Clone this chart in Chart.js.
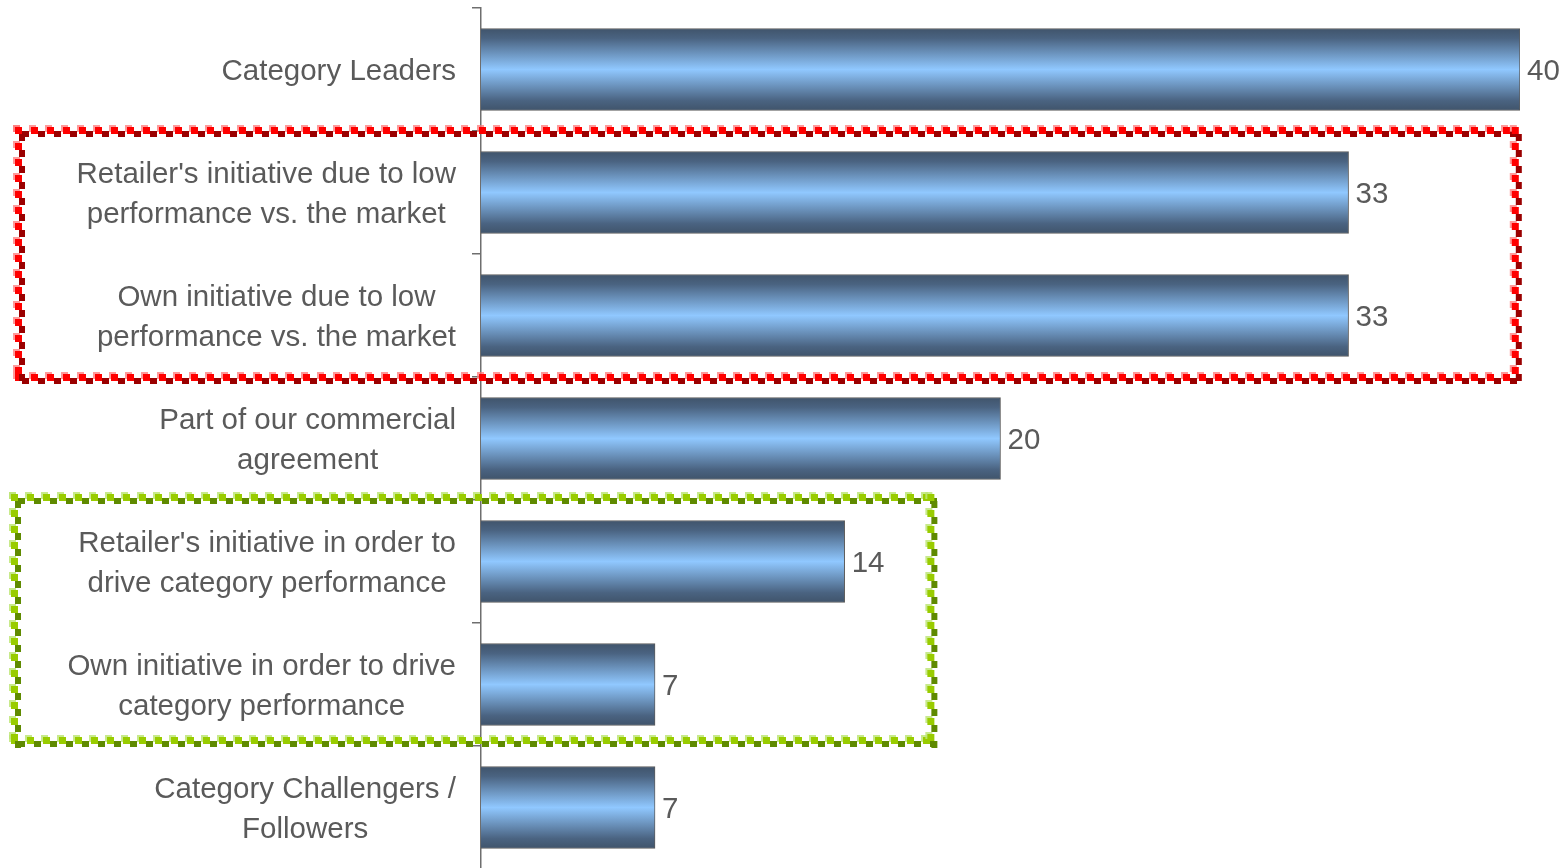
<!DOCTYPE html>
<html>
<head>
<meta charset="utf-8">
<script src="https://cdn.jsdelivr.net/npm/chart.js@4.4.1/dist/chart.umd.min.js"></script>
<style>
html,body{margin:0;padding:0;overflow:hidden;background:#fff;}
#wrap{width:1563px;height:870px;}
</style>
</head>
<body>
<div id="wrap"><canvas id="c" width="1563" height="870"></canvas></div>
<script>
const categories = [
  ["Category Leaders"],
  ["Retailer's initiative due to low", "performance vs. the market"],
  ["Own initiative due to low", "performance vs. the market"],
  ["Part of our commercial", "agreement"],
  ["Retailer's initiative in order to", "drive category performance"],
  ["Own initiative in order to drive", "category performance"],
  ["Category Challengers /", "Followers"]
];
const values = [40, 33.4, 33.4, 20, 14, 6.7, 6.7];
const valueLabels = ["40", "33", "33", "20", "14", "7", "7"];
const xMin = 0, xMax = 40;

const FONT = '29.5px "Liberation Sans", Arial, sans-serif';
const TEXT = '#5a5a5a';
const BAR_T = 82;

const labelPlugin = {
  id: 'labels',
  afterDraw(chart) {
    const ctx = chart.ctx, ys = chart.scales.y, area = chart.chartArea;
    ctx.save();
    ctx.font = FONT;
    ctx.fillStyle = TEXT;
    ctx.textBaseline = 'middle';
    ctx.textAlign = 'center';
    const right = area.left - 25;
    categories.forEach((lines, i) => {
      const cy = ys.getPixelForValue(i);
      const maxW = Math.max(...lines.map(l => ctx.measureText(l).width));
      const cx = right - maxW / 2;
      const lh = 40;
      lines.forEach((l, j) => {
        const y = cy + (j - (lines.length - 1) / 2) * lh + 2;
        ctx.fillText(l, cx, y);
      });
    });
    ctx.textAlign = 'left';
    const meta = chart.getDatasetMeta(0);
    meta.data.forEach((bar, i) => {
      ctx.fillText(valueLabels[i], bar.x + 7, bar.y + 2);
    });
    ctx.restore();
  }
};

function checkerLine(ctx, x1, y1, x2, y2, cols) {
  const horiz = Math.abs(y2 - y1) < 1;
  const len = horiz ? x2 - x1 : y2 - y1;
  for (let t = 0; t <= len; t += 16) {
    const x = horiz ? x1 + t : x1;
    const y = horiz ? y1 : y1 + t;
    ctx.fillStyle = cols[0];
    ctx.fillRect(x - 5, y - 5, 7, 7);
    ctx.fillStyle = cols[1];
    ctx.fillRect(x - 3, y - 3, 7, 7);
    ctx.fillStyle = cols[2];
    if (horiz) ctx.fillRect(x + 4, y + 1, 7, 6);
    else ctx.fillRect(x + 1, y + 4, 6, 7);
  }
}
function checkerBox(ctx, l, t, r, b, cols) {
  checkerLine(ctx, l, t, r, t, cols);
  checkerLine(ctx, l, b, r, b, cols);
  checkerLine(ctx, l, t, l, b, cols);
  checkerLine(ctx, r, t, r, b, cols);
}

const boxPlugin = {
  id: 'boxes',
  afterDraw(chart) {
    const ctx = chart.ctx, ys = chart.scales.y, xs = chart.scales.x;
    const step = ys.getPixelForValue(1) - ys.getPixelForValue(0);
    const edge = i => ys.getPixelForValue(i) - step / 2;
    ctx.save();
    checkerBox(ctx, 18, edge(1) - 1, xs.getPixelForValue(39.8), edge(3),
      ['rgba(255,120,120,0.75)', '#ff0000', '#9a0000']);
    checkerBox(ctx, 14, edge(4) - 3, xs.getPixelForValue(17.3), edge(6) - 6,
      ['rgba(190,230,120,0.85)', '#99cc00', '#5f8a00']);
    ctx.restore();
  }
};

new Chart(document.getElementById('c'), {
  type: 'bar',
  data: {
    labels: categories,
    datasets: [{
      data: values,
      barThickness: BAR_T,
      borderColor: '#5c5c5c',
      borderWidth: {top: 1, right: 1, bottom: 1, left: 0},
      borderSkipped: 'left',
      backgroundColor: (c) => {
        const chart = c.chart, ys = chart.scales && chart.scales.y;
        if (!ys || c.dataIndex === undefined) return '#6f9fcf';
        const cy = ys.getPixelForValue(c.dataIndex);
        if (!isFinite(cy)) return '#6f9fcf';
        const g = chart.ctx.createLinearGradient(0, cy - BAR_T / 2, 0, cy + BAR_T / 2);
        g.addColorStop(0, '#40546b');
        g.addColorStop(0.12, '#4a6381');
        g.addColorStop(0.5, '#90c8ff');
        g.addColorStop(0.88, '#4a6381');
        g.addColorStop(1, '#40546b');
        return g;
      }
    }]
  },
  options: {
    responsive: false,
    animation: false,
    devicePixelRatio: 1,
    indexAxis: 'y',
    layout: {padding: {left: 0, right: 43, top: 8, bottom: 1}},
    plugins: {legend: {display: false}, tooltip: {enabled: false}},
    scales: {
      x: {display: false, min: xMin, max: xMax},
      y: {
        afterFit(s) { s.width = 481; s.paddingTop = 0; s.paddingBottom = 0; },
        grid: {drawOnChartArea: false, drawTicks: true, tickLength: 9, color: '#6e6e6e', lineWidth: 1.5, offset: true},
        border: {display: true, color: '#6e6e6e', width: 1.5},
        ticks: {display: false}
      }
    }
  },
  plugins: [boxPlugin, labelPlugin]
});
</script>
</body>
</html>
